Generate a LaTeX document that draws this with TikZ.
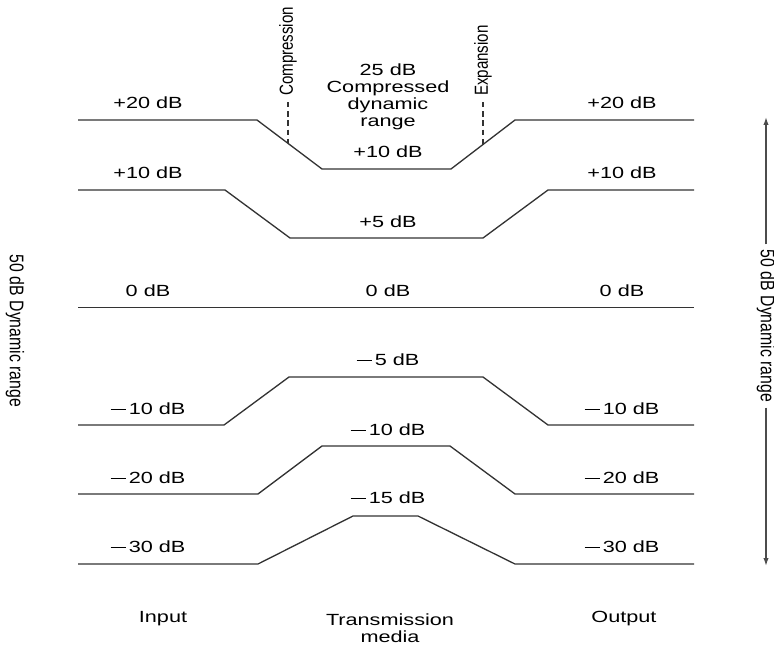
\documentclass[tikz,border=0pt]{standalone}
\usepackage{fontspec}
\setmainfont{Liberation Sans}[FakeStretch=1.34]
\newfontfamily\plainsans{Liberation Sans}
\usetikzlibrary{arrows.meta}

% wide dash in front of negative levels
\newcommand{\neglev}{\rule[2.7pt]{9pt}{0.85pt}\kern1.4pt}
% rotated labels, widened across the line of text
\newcommand{\widen}[1]{\scalebox{1}[1.25]{#1}}

\tikzset{
  sigline/.style={draw=black!80, line width=0.75pt},
  guide/.style={draw=black!80, line width=0.6pt, dash pattern=on 3pt off 2.2pt},
  db/.style={font=\fontsize{9.2}{9.6}\selectfont, inner sep=1pt},
  vlabel/.style={font=\plainsans\fontsize{8.6}{10}\selectfont, inner sep=1pt},
}

\begin{document}
\begin{tikzpicture}[x=0.02cm, y=-0.02cm]
\useasboundingbox (0,0) rectangle (774,645);

% signal levels, input -> transmission media -> output
\draw[sigline] (78,120) -- (257,120) -- (322,169) -- (451,169) -- (515,120) -- (694,120);
\draw[sigline] (78,190) -- (225,190) -- (290,238) -- (483,238) -- (548,190) -- (694,190);
\draw[sigline] (78,307.5) -- (694,307.5);
\draw[sigline] (78,425) -- (224,425) -- (289,377) -- (483,377) -- (548,425) -- (694,425);
\draw[sigline] (78,494) -- (258,494) -- (322,446) -- (450,446) -- (515,494) -- (694,494);
\draw[sigline] (78,564) -- (258,564) -- (353,516) -- (418,516) -- (515,564) -- (694,564);

% levels at input and output
\foreach \y/\t [count=\i] in {103/+20,173/+10,291/0,409/\neglev10,478/\neglev20,547/\neglev30} {
  \node[db] (in\i) at (148,\y) {\t\ dB};
  \node[db] (out\i) at (622,\y) {\t\ dB};
}

% levels on the medium
\node[db] (md1) at (388,152) {+10 dB};
\node[db] (md2) at (388,222) {+5 dB};
\node[db] (md3) at (388,291) {0 dB};
\node[db] (md4) at (388,360) {\neglev5 dB};
\node[db] (md5) at (388,430) {\neglev10 dB};
\node[db] (md6) at (388,498) {\neglev15 dB};
\node[db, align=center] (crange) at (388,97) {25 dB\\Compressed\\dynamic\\range};

% compressor / expander markers
\node[vlabel, rotate=90, anchor=west] (comp) at (288,98) {\widen{Compression}};
\node[vlabel, rotate=90, anchor=west] (expa) at (483,98) {\widen{Expansion}};
\coordinate (compend) at (288,143.5);
\coordinate (expaend) at (483,144.5);
\draw[guide, shorten <=2.4pt] (comp.west) -- (compend);
\draw[guide, shorten <=2.4pt] (expa.west) -- (expaend);

% dynamic range
\node[vlabel, rotate=-90, font=\plainsans\fontsize{9}{10}\selectfont] (dynin) at (15,331) {\widen{50 dB Dynamic range}};
\node[vlabel, rotate=-90, font=\plainsans\fontsize{9}{10}\selectfont, inner sep=3pt] (dynout) at (766,326) {\widen{50 dB Dynamic range}};
\coordinate (dtop) at (766,117);
\coordinate (dbot) at (766,566);
\draw[sigline, draw=black!70, -{Latex[length=4.5pt,width=3pt]}] (dynout) -- (dtop);
\draw[sigline, draw=black!70, -{Latex[length=4.5pt,width=3pt]}] (dynout) -- (dbot);

% stages
\node[db] (inp) at (163,619) {Input};
\node[db, align=center] (media) at (390,628) {Transmission\\media};
\node[db] (outp) at (624,619) {Output};
\end{tikzpicture}
\end{document}
